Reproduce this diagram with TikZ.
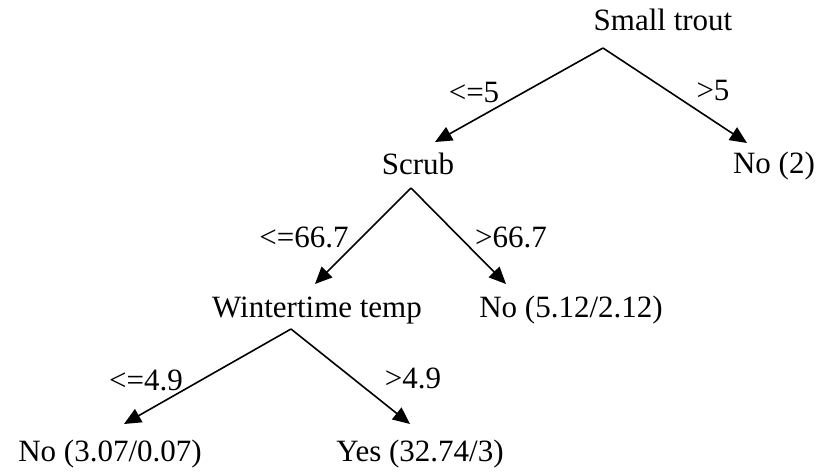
\documentclass[tikz,border=0pt]{standalone}
\usepackage{fontspec}
\setmainfont{Liberation Serif}
\usetikzlibrary{arrows.meta}
\begin{document}
\begin{tikzpicture}[x=1pt,y=-1pt,
  lbl/.style={anchor=base,inner sep=0pt,font=\fontsize{31}{34}\selectfont},
  edge/.style={line width=1.6pt,-{Triangle[length=17pt,width=15pt]}}]
\useasboundingbox (0,0) rectangle (820,472);
% nodes
\node[lbl] (st) at (663,30) {Small trout};
\node[lbl] (scrub) at (418,174) {Scrub};
\node[lbl] (no2) at (774,173) {No (2)};
\node[lbl] (wt) at (317,317) {Wintertime temp};
\node[lbl] (no512) at (571,317) {No (5.12/2.12)};
\node[lbl] (no307) at (110,461) {No (3.07/0.07)};
\node[lbl] (yes) at (420,461) {Yes (32.74/3)};
% edge labels
\node[lbl] (l1) at (474,102) {<=5};
\node[lbl] (r1) at (713,100) {>5};
\node[lbl] (l2) at (304,247) {<=66.7};
\node[lbl] (r2) at (511,247) {>66.7};
\node[lbl] (l3) at (146,390) {<=4.9};
\node[lbl] (r3) at (413,388) {>4.9};
% connector points
\coordinate (a1) at (603,48);
\coordinate (t1l) at (435,142);
\coordinate (t1r) at (747,143);
\coordinate (a2) at (411,188);
\coordinate (t2l) at (315,284);
\coordinate (t2r) at (506,284);
\coordinate (a3) at (291,329);
\coordinate (t3l) at (124,424);
\coordinate (t3r) at (410,424);
\draw[edge] (a1) -- (t1l);
\draw[edge] (a1) -- (t1r);
\draw[edge] (a2) -- (t2l);
\draw[edge] (a2) -- (t2r);
\draw[edge] (a3) -- (t3l);
\draw[edge] (a3) -- (t3r);
\end{tikzpicture}
\end{document}
